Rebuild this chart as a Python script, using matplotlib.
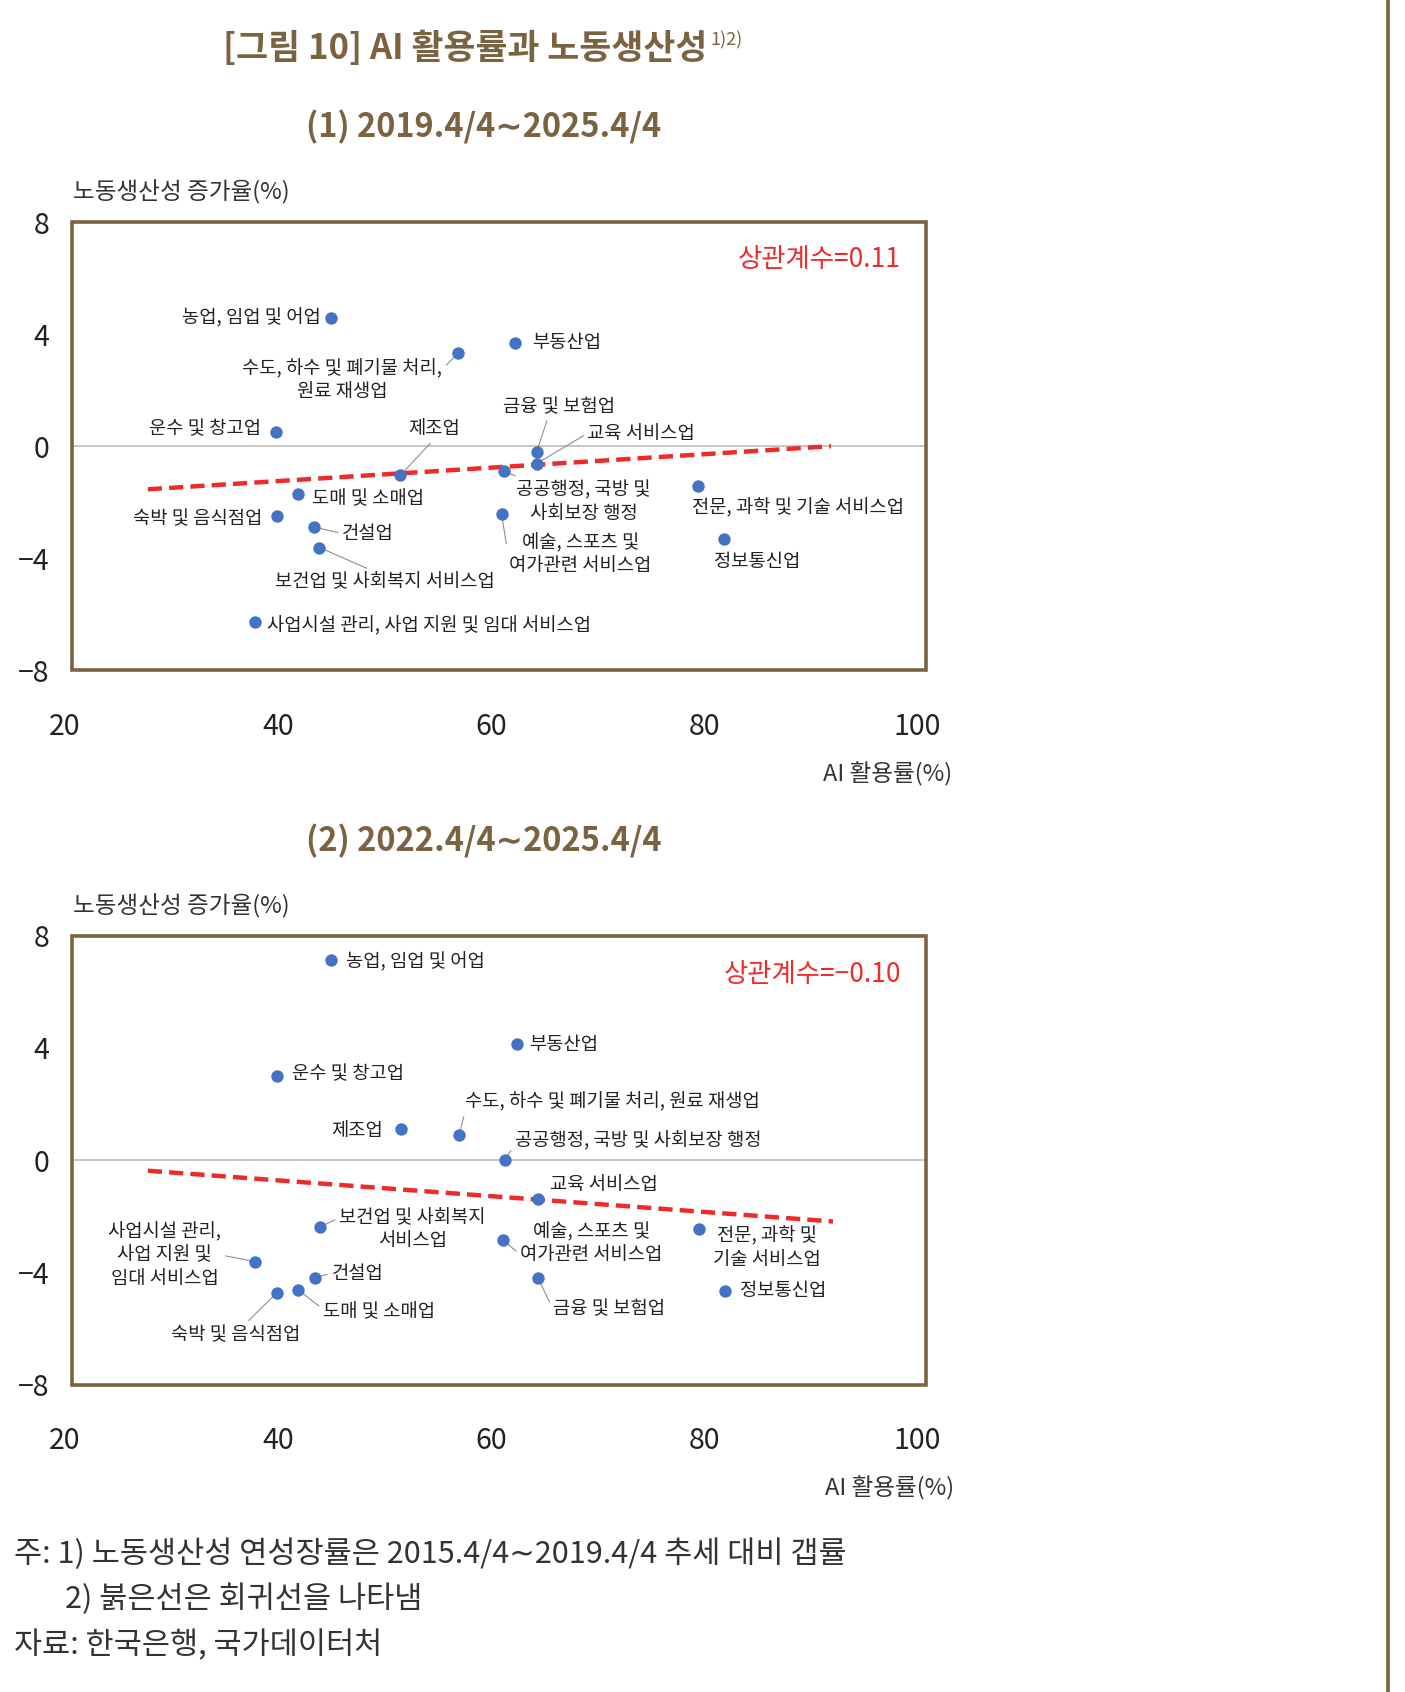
import numpy as np
import matplotlib
matplotlib.use("Agg")
import matplotlib.pyplot as plt
from matplotlib.patches import Rectangle
from matplotlib.lines import Line2D

plt.rcParams['font.family'] = ['Noto Sans CJK KR', 'DejaVu Sans']
plt.rcParams['axes.unicode_minus'] = True

# industries (same order in both panels)
industries = [
    "농업, 임업 및 어업", "부동산업", "수도, 하수 및 폐기물 처리, 원료 재생업",
    "운수 및 창고업", "금융 및 보험업", "교육 서비스업", "제조업",
    "공공행정, 국방 및 사회보장 행정", "전문, 과학 및 기술 서비스업",
    "도매 및 소매업", "숙박 및 음식점업", "예술, 스포츠 및 여가관련 서비스업",
    "건설업", "보건업 및 사회복지 서비스업", "정보통신업",
    "사업시설 관리, 사업 지원 및 임대 서비스업",
]

# (1) 2019.4/4~2025.4/4
ai_use_1 = [45.0, 62.3, 56.9, 39.8, 64.3, 64.3, 51.5, 61.2, 79.4, 41.9, 39.9, 61.0, 43.4, 43.9, 81.9, 37.9]
prod_1 = [4.59, 3.70, 3.32, 0.50, -0.19, -0.62, -1.04, -0.89, -1.43, -1.70, -2.51, -2.43, -2.89, -3.62, -3.32, -6.28]
trend_x_1 = [27.8, 91.9]
trend_y_1 = [-1.54, 0.0]
corr_1 = "상관계수=0.11"

# (2) 2022.4/4~2025.4/4
ai_use_2 = [45.0, 62.4, 57.0, 39.9, 64.4, 64.4, 51.6, 61.3, 79.5, 41.9, 39.9, 61.1, 43.5, 44.0, 82.0, 37.9]
prod_2 = [7.12, 4.15, 0.88, 3.00, -4.19, -1.38, 1.12, 0.00, -2.46, -4.62, -4.73, -2.85, -4.19, -2.38, -4.65, -3.62]
trend_x_2 = [27.8, 92.1]
trend_y_2 = [-0.38, -2.19]
corr_2 = "상관계수=−0.10"

x_ticks = [20, 40, 60, 80, 100]
y_ticks = [-8, -4, 0, 4, 8]

# label layout: text, dx, dy (px, down positive), ha, leader relpos or None
layout_1 = [
    ("농업, 임업 및 어업", -10, 0, 'right', None),
    ("부동산업", 15, 0, 'left', None),
    ("수도, 하수 및 폐기물 처리,\n원료 재생업", -107, 25, 'center', (1, 0.75)),
    ("운수 및 창고업", -14, -3, 'right', None),
    ("금융 및 보험업", 21, -42, 'center', (0.4, 0)),
    ("교육 서비스업", 47, -28, 'left', (0, 0.5)),
    ("제조업", 31, -43, 'center', (0.5, 0)),
    ("공공행정, 국방 및\n사회보장 행정", 74, 28, 'center', (0.05, 1)),
    ("전문, 과학 및 기술 서비스업", 93, 20, 'center', None),
    ("도매 및 소매업", 13, 5, 'left', None),
    ("숙박 및 음식점업", -13, 2, 'right', None),
    ("예술, 스포츠 및\n여가관련 서비스업", 73, 37, 'center', (0, 0.3)),
    ("건설업", 26, 6, 'left', (0, 0.5)),
    ("보건업 및 사회복지 서비스업", 61, 32, 'center', (0.45, 1)),
    ("정보통신업", 30, 21, 'center', None),
    ("사업시설 관리, 사업 지원 및 임대 서비스업", 11, 4, 'left', None),
]
layout_2 = [
    ("농업, 임업 및 어업", 14, 1, 'left', None),
    ("부동산업", 12, 1, 'left', None),
    ("수도, 하수 및 폐기물 처리, 원료 재생업", 142, -31, 'center', (0, 0)),
    ("운수 및 창고업", 14, -2, 'left', None),
    ("금융 및 보험업", 14, 29, 'left', (0, 0.5)),
    ("교육 서비스업", 11, -13, 'left', None),
    ("제조업", -17, 2, 'right', None),
    ("공공행정, 국방 및 사회보장 행정", 9, -18, 'left', (0, 0.3)),
    ("전문, 과학 및\n기술 서비스업", 63, 17, 'center', None),
    ("도매 및 소매업", 23, 20, 'left', (0, 0.6)),
    ("숙박 및 음식점업", -38, 39, 'center', (0.57, 1)),
    ("예술, 스포츠 및\n여가관련 서비스업", 82, 3, 'center', (0, 0.25)),
    ("건설업", 15, -4, 'left', (0, 0.5)),
    ("보건업 및 사회복지\n서비스업", 85, 2, 'center', (0, 0.75)),
    ("정보통신업", 14, 0, 'left', None),
    ("사업시설 관리,\n사업 지원 및\n임대 서비스업", -84, -6, 'center', (1, 0.5)),
]

W, H = 1405, 1692
brown = '#7b6342'
dot_color = '#4472c4'
red = '#ee2b2b'
k = 1405 / 1302  # offsets were read on the shrunk view

fig = plt.figure(figsize=(W / 100, H / 100), dpi=100)


def panel(top, bottom, xs, ys, tx, ty, corr, layout, corr_y):
    left, right = 64.7, 917.2
    ax = fig.add_axes([left / W, 1 - bottom / H, (right - left) / W, (bottom - top) / H])
    ax.set_xlim(20, 100)
    ax.set_ylim(-8, 8)
    ax.set_xticks(x_ticks)
    ax.set_yticks(y_ticks)
    for s in ax.spines.values():
        s.set_visible(False)
    ax.tick_params(length=0, labelsize=20.5, labelcolor='#222222')
    ax.tick_params(axis='x', pad=30)
    ax.tick_params(axis='y', pad=11)
    x0 = (72.3 - left) / (right - left)
    x1 = (925.9 - left) / (right - left)
    ax.add_patch(Rectangle((x0, 0), x1 - x0, 1, transform=ax.transAxes, fill=False,
                           ec=brown, lw=2.6, clip_on=False, zorder=5))
    ax.axhline(0, xmin=x0, xmax=x1, color='#c9c0b5', lw=1.3, clip_on=False, zorder=1)
    ax.plot(tx, ty, color=red, lw=3.2, dashes=(3.2, 1.6), zorder=2, solid_capstyle='butt')
    ax.scatter(xs, ys, s=80, color=dot_color, zorder=4, linewidths=0)
    for x, y, (txt, dx, dy, ha, rel) in zip(xs, ys, layout):
        kw = {}
        if rel is not None:
            kw['arrowprops'] = dict(arrowstyle='-', color='#8f8f8f', lw=0.8,
                                    shrinkA=1, shrinkB=2, relpos=rel)
        ax.annotate(txt, (x, y), xytext=(dx * k, -dy * k), textcoords='offset pixels',
                    ha=ha, va='center', multialignment='center', fontsize=13.5,
                    color='#222222', linespacing=1.15, zorder=3, **kw)
    ax.text(0.981, corr_y, corr, transform=ax.transAxes, ha='right', va='center',
            fontsize=19, color=red)
    return ax


ax1 = panel(222.3, 670.1, ai_use_1, prod_1, trend_x_1, trend_y_1, corr_1, layout_1, 0.916)
ax2 = panel(935.6, 1384.5, ai_use_2, prod_2, trend_x_2, trend_y_2, corr_2, layout_2, 0.914)

# titles
t = fig.text(223 / W, 1 - 48 / H, "[그림 10] AI 활용률과 노동생산성", ha='left', va='center',
             fontsize=25, color=brown, fontweight='bold')
ax1.annotate("1)2)", xy=(1, 1), xycoords=t, xytext=(2, -1), textcoords='offset points',
             ha='left', va='top', fontsize=13, color=brown, annotation_clip=False)
fig.text(484 / W, 1 - 127 / H, "(1) 2019.4/4∼2025.4/4", ha='center', va='center',
         fontsize=23.5, color=brown, fontweight='bold')
fig.text(484 / W, 1 - 841 / H, "(2) 2022.4/4∼2025.4/4", ha='center', va='center',
         fontsize=23.5, color=brown, fontweight='bold')

# axis titles
for yy in (192, 906):
    fig.text(73 / W, 1 - yy / H, "노동생산성 증가율(%)", ha='left', va='center',
             fontsize=17, color='#333333')
for yy, xx in ((774, 952), (1488, 954)):
    fig.text(xx / W, 1 - yy / H, "AI 활용률(%)", ha='right', va='center',
             fontsize=17, color='#333333')

# notes
fig.text(14 / W, 1 - 1554 / H, "주: 1) 노동생산성 연성장률은 2015.4/4∼2019.4/4 추세 대비 갭률",
         ha='left', va='center', fontsize=22, color='#333333')
fig.text(65 / W, 1 - 1599 / H, "2) 붉은선은 회귀선을 나타냄",
         ha='left', va='center', fontsize=22, color='#333333')
fig.text(14 / W, 1 - 1646 / H, "자료: 한국은행, 국가데이터처",
         ha='left', va='center', fontsize=22, color='#333333')

# page rule on the right
fig.add_artist(Line2D([1388 / W, 1388 / W], [0, 1], transform=fig.transFigure,
                      color=brown, lw=2.6))

fig.savefig("out.png", dpi=100)
